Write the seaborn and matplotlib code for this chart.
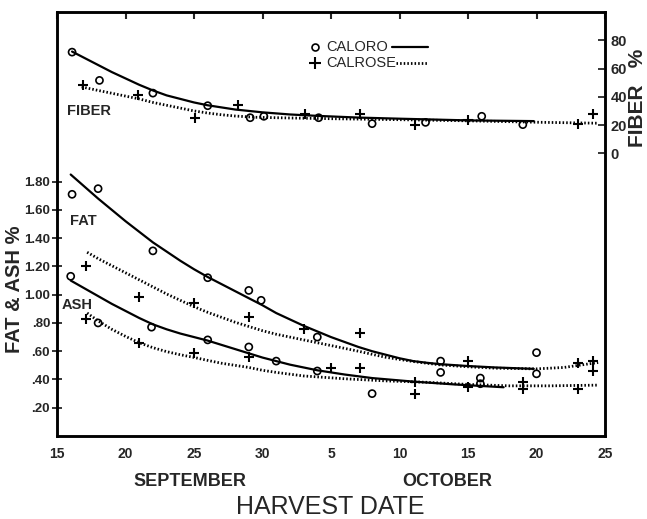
import matplotlib
matplotlib.use("Agg")
import matplotlib.pyplot as plt
import seaborn as sns

# ==================================================
# DATA  (day number counted from Sept 1, so Oct 5 = 35)
# ==================================================

x_ticks = [15, 20, 25, 30, 35, 40, 45, 50, 55]
x_tick_labels = ["15", "20", "25", "30", "5", "10", "15", "20", "25"]

left_ticks = [0.2, 0.4, 0.6, 0.8, 1.0, 1.2, 1.4, 1.6, 1.8]
left_tick_labels = [".20", ".40", ".60", ".80", "1.00", "1.20", "1.40", "1.60", "1.80"]

right_ticks = [0, 20, 40, 60, 80]
right_tick_labels = ["0", "20", "40", "60", "80"]

# fiber, measured points
fiber_caloro_day = [16.1, 18.1, 22.0, 26.0, 29.1, 30.1, 34.1, 38.0, 41.9, 46.0, 49.0]
fiber_caloro_val = [71.6, 51.6, 42.6, 33.7, 25.2, 26.2, 25.2, 21.0, 21.9, 26.2, 20.3]
fiber_calrose_day = [16.9, 20.9, 25.1, 28.2, 33.1, 37.1, 41.1, 45.0, 53.0, 54.1]
fiber_calrose_val = [48.1, 41.0, 25.2, 33.9, 28.1, 28.1, 20.3, 23.3, 20.5, 28.1]

# fiber, fitted curves
fiber_caloro_curve_day = [16.1, 17, 18, 19, 20, 21, 22, 23, 24, 25, 26, 27, 28, 29, 30,
                          32, 34, 37, 40, 45, 49.8]
fiber_caloro_curve_val = [72, 67.5, 62.5, 57.5, 53, 48.5, 44.5, 41, 38.5, 36, 34, 32.5, 31,
                          30, 29, 27.5, 26.5, 25.3, 24.5, 23.3, 22.8]
fiber_calrose_curve_day = [16.8, 18, 19, 20, 21, 22, 23, 24, 25, 26, 27, 28, 29.5, 32, 35,
                           40, 45, 50, 54.5]
fiber_calrose_curve_val = [47, 44.5, 42.5, 40.5, 38.5, 36, 34, 32, 30, 28.5, 27.3, 26.4, 25.5,
                           25, 24.5, 23.8, 23, 22, 21.3]

# fat, measured points
fat_caloro_day = [16.1, 18.0, 22.0, 26.0, 29.0, 29.9, 34.0, 43.0, 45.9, 50.0]
fat_caloro_val = [1.71, 1.75, 1.31, 1.12, 1.03, 0.96, 0.70, 0.53, 0.41, 0.59]
fat_calrose_day = [17.1, 21.0, 25.0, 29.0, 33.05, 37.1, 45.0, 53.0, 54.15]
fat_calrose_val = [1.20, 0.98, 0.94, 0.84, 0.76, 0.73, 0.53, 0.52, 0.53]

# ash, measured points
ash_caloro_day = [16.0, 18.0, 21.9, 26.0, 29.0, 31.0, 34.0, 38.0, 43.0, 45.9, 50.0]
ash_caloro_val = [1.13, 0.80, 0.77, 0.68, 0.63, 0.53, 0.46, 0.30, 0.45, 0.37, 0.44]
ash_calrose_day = [17.1, 21.0, 25.0, 29.0, 35.0, 37.1, 41.1, 41.1, 45.0, 49.0, 49.0, 53.05, 54.1]
ash_calrose_val = [0.83, 0.66, 0.59, 0.56, 0.48, 0.48, 0.38, 0.30, 0.35, 0.38, 0.33, 0.33, 0.46]

# fat and ash, fitted curves
fat_caloro_curve_day = [16, 17, 18, 19, 20, 21, 22, 23, 24, 25, 26, 27, 28, 29, 30, 31, 32,
                        33, 34, 35, 36, 37, 38, 39, 40, 41, 42, 43, 45, 47, 49.8]
fat_caloro_curve_val = [1.85, 1.765, 1.68, 1.60, 1.52, 1.445, 1.37, 1.305, 1.24, 1.18, 1.125,
                        1.075, 1.025, 0.975, 0.925, 0.87, 0.825, 0.78, 0.74, 0.70, 0.665,
                        0.63, 0.60, 0.575, 0.55, 0.53, 0.518, 0.508, 0.495, 0.485, 0.475]
fat_calrose_curve_day = [17.2, 18, 19, 20, 21, 22, 23, 24, 25, 26, 27, 28, 29, 30, 31, 32, 33,
                         34, 35, 36, 37, 38, 39, 40, 41, 43, 45, 47, 50, 52, 54.5]
fat_calrose_curve_val = [1.30, 1.255, 1.205, 1.155, 1.105, 1.055, 1.005, 0.96, 0.915, 0.875,
                         0.84, 0.805, 0.775, 0.745, 0.72, 0.70, 0.68, 0.66, 0.64, 0.62, 0.60,
                         0.578, 0.557, 0.542, 0.527, 0.503, 0.49, 0.48, 0.475, 0.485, 0.52]
ash_caloro_curve_day = [16, 17, 18, 19, 20, 21, 22, 23, 24, 25, 26, 27, 28, 29, 30, 31, 32,
                        33, 34, 36, 38, 41, 44, 47.6]
ash_caloro_curve_val = [1.10, 1.045, 0.99, 0.935, 0.885, 0.835, 0.79, 0.755, 0.725, 0.70,
                        0.675, 0.645, 0.615, 0.585, 0.555, 0.53, 0.505, 0.485, 0.465, 0.435,
                        0.41, 0.385, 0.365, 0.345]
ash_calrose_curve_day = [17.2, 18, 19, 20, 21, 22, 23, 24, 25, 26, 27, 28, 29, 30, 31, 33,
                         36, 39, 42, 45, 48, 51, 54.5]
ash_calrose_curve_val = [0.87, 0.815, 0.755, 0.705, 0.66, 0.625, 0.597, 0.575, 0.556, 0.535,
                         0.515, 0.50, 0.485, 0.465, 0.45, 0.425, 0.405, 0.39, 0.38, 0.365,
                         0.355, 0.355, 0.36]

# ==================================================
# STYLE
# ==================================================

sns.set_style("white")
plt.rcParams["font.family"] = ["Liberation Sans", "DejaVu Sans"]

fig = plt.figure(figsize=(6.47, 5.19), dpi=100)
ax = fig.add_axes([0.0881, 0.1599, 0.847, 0.817])
ax2 = ax.twinx()

solid_kw = dict(color="black", linewidth=1.6, estimator=None, errorbar=None)
dot_kw = dict(color="black", linewidth=2.0, linestyle=(0, (0.55, 0.75)),
              estimator=None, errorbar=None)
circle_kw = dict(marker="o", s=26, facecolor="none", edgecolor="black",
                 linewidth=1.2, zorder=5)
plus_kw = dict(marker="+", s=60, color="black", linewidth=1.5, zorder=5)

# ==================================================
# FAT & ASH (left axis)
# ==================================================

sns.lineplot(x=fat_caloro_curve_day, y=fat_caloro_curve_val, ax=ax, **solid_kw)
sns.lineplot(x=ash_caloro_curve_day, y=ash_caloro_curve_val, ax=ax, **solid_kw)
sns.lineplot(x=fat_calrose_curve_day, y=fat_calrose_curve_val, ax=ax, **dot_kw)
sns.lineplot(x=ash_calrose_curve_day, y=ash_calrose_curve_val, ax=ax, **dot_kw)

sns.scatterplot(x=fat_caloro_day, y=fat_caloro_val, ax=ax, **circle_kw)
sns.scatterplot(x=ash_caloro_day, y=ash_caloro_val, ax=ax, **circle_kw)
sns.scatterplot(x=fat_calrose_day, y=fat_calrose_val, ax=ax, **plus_kw)
sns.scatterplot(x=ash_calrose_day, y=ash_calrose_val, ax=ax, **plus_kw)

# ==================================================
# FIBER (right axis)
# ==================================================

sns.lineplot(x=fiber_caloro_curve_day, y=fiber_caloro_curve_val, ax=ax2, **solid_kw)
sns.lineplot(x=fiber_calrose_curve_day, y=fiber_calrose_curve_val, ax=ax2, **dot_kw)
sns.scatterplot(x=fiber_caloro_day, y=fiber_caloro_val, ax=ax2, **circle_kw)
sns.scatterplot(x=fiber_calrose_day, y=fiber_calrose_val, ax=ax2, **plus_kw)

# ==================================================
# AXES
# ==================================================

ax.set_xlim(15, 55)
ax.set_ylim(0, 3.0)
ax2.set_ylim(-200, 100)

ax.set_xticks(x_ticks)
ax.set_xticklabels(x_tick_labels, fontsize=10, fontweight="bold")
ax.set_yticks(left_ticks)
ax.set_yticklabels(left_tick_labels, fontsize=9.5, fontweight="bold")
ax2.set_yticks(right_ticks)
ax2.set_yticklabels(right_tick_labels, fontsize=10.5, fontweight="bold")

ax.tick_params(axis="x", direction="in", length=5, width=1.5, top=True, pad=8)
ax.tick_params(axis="y", direction="inout", length=7, width=1.3, pad=1.5)
ax2.tick_params(axis="y", direction="in", length=5, width=1.3, pad=4)

for a in (ax, ax2):
    a.set_xlabel("")
    a.set_ylabel("")
    for s in a.spines.values():
        s.set_linewidth(1.8)
        s.set_color("black")

# ==================================================
# TEXT
# ==================================================

ax2.text(15.7, 30, "FIBER", fontsize=10.5, fontweight="bold", va="center", ha="left")
ax.text(15.95, 1.52, "FAT", fontsize=10.5, fontweight="bold", va="center", ha="left")
ax.text(15.35, 0.93, "ASH", fontsize=10.5, fontweight="bold", va="center", ha="left")

# legend
ax.plot([0.4708], [0.918], transform=ax.transAxes, marker="o", ms=5,
        mfc="none", mec="black", mew=1.2, ls="none")
ax.text(0.492, 0.918, "CALORO", transform=ax.transAxes, fontsize=10.5,
        va="center", ha="left")
ax.plot([0.611, 0.677], [0.918, 0.918], transform=ax.transAxes,
        color="black", lw=1.6)
ax.plot([0.4708], [0.879], transform=ax.transAxes, marker="+", ms=8,
        mec="black", mew=1.5, ls="none")
ax.text(0.492, 0.879, "CALROSE", transform=ax.transAxes, fontsize=10.5,
        va="center", ha="left")
ax.plot([0.619, 0.677], [0.879, 0.879], transform=ax.transAxes,
        color="black", lw=2.0, ls=(0, (0.55, 0.75)))

fig.text(0.022, 0.443, "FAT & ASH %", rotation=90, fontsize=14.5,
         fontweight="bold", ha="center", va="center")
fig.text(0.985, 0.812, "FIBER   %", rotation=90, fontsize=15,
         fontweight="bold", ha="center", va="center")

fig.text(0.294, 0.073, "SEPTEMBER", fontsize=13, fontweight="bold",
         ha="center", va="center")
fig.text(0.691, 0.073, "OCTOBER", fontsize=13, fontweight="bold",
         ha="center", va="center")
fig.text(0.51, 0.023, "HARVEST DATE", fontsize=18, ha="center", va="center")

fig.savefig("out.png", dpi=100)
